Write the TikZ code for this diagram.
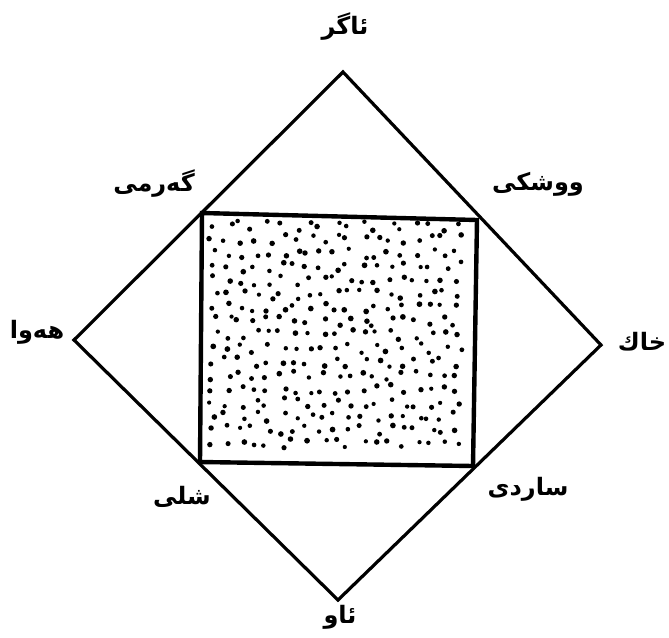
\documentclass[tikz,border=0pt]{standalone}
\usepackage{fontspec}
\newfontfamily\arabicfont[Script=Arabic]{DejaVu Sans}
\TeXXeTstate=1
\begin{document}
\begin{tikzpicture}[x=1pt,y=-1pt,
  lbl/.style={font=\arabicfont\bfseries\fontsize{24}{28}\selectfont, inner sep=0pt},
  dia/.style={draw=black, line width=3.2pt, line join=miter},
  sq/.style={draw=black, line width=4.4pt, line join=miter},
  dot/.style={fill=black}]
\useasboundingbox (0,0) rectangle (669,637);
\fill[white] (0,0) rectangle (669,637);
% diamond
\coordinate (T) at (343,72);
\coordinate (R) at (601,345);
\coordinate (B) at (338,600);
\coordinate (L) at (74,340);
% square
\coordinate (TL) at (202,213);
\coordinate (TR) at (477,220);
\coordinate (BR) at (473,466);
\coordinate (BL) at (200,462);
% stipple (jittered grid)
\pgfmathsetseed{4242}
\foreach \i in {0,...,18}{
  \foreach \j in {0,...,16}{
    \pgfmathsetmacro{\px}{214+\i*13.5+10*(rnd-0.5)}
    \pgfmathsetmacro{\py}{226+\j*13.6+10*(rnd-0.5)}
    \pgfmathsetmacro{\r}{2.1+0.8*rnd}
    \fill[dot] (\px,\py) circle[radius=\r];
  }
}
\draw[dia] (T) -- (R) -- (B) -- (L) -- cycle;
\draw[sq] (TL) -- (TR) -- (BR) -- (BL) -- cycle;
% labels
\node[lbl] (fire) at (345,27) {\beginR ئاگر\endR};
\node[lbl] (heat) at (154,184) {\beginR گەرمی\endR};
\node[lbl] (dry) at (538,184) {\beginR ووشکی\endR};
\node[lbl] (air) at (37,332) {\beginR هەوا\endR};
\node[lbl] (earth) at (642,342) {\beginR خاك\endR};
\node[lbl] (wet) at (182,497) {\beginR شلی\endR};
\node[lbl] (cold) at (528,489) {\beginR ساردی\endR};
\node[lbl] (water) at (340,617) {\beginR ئاو\endR};
\end{tikzpicture}
\end{document}
